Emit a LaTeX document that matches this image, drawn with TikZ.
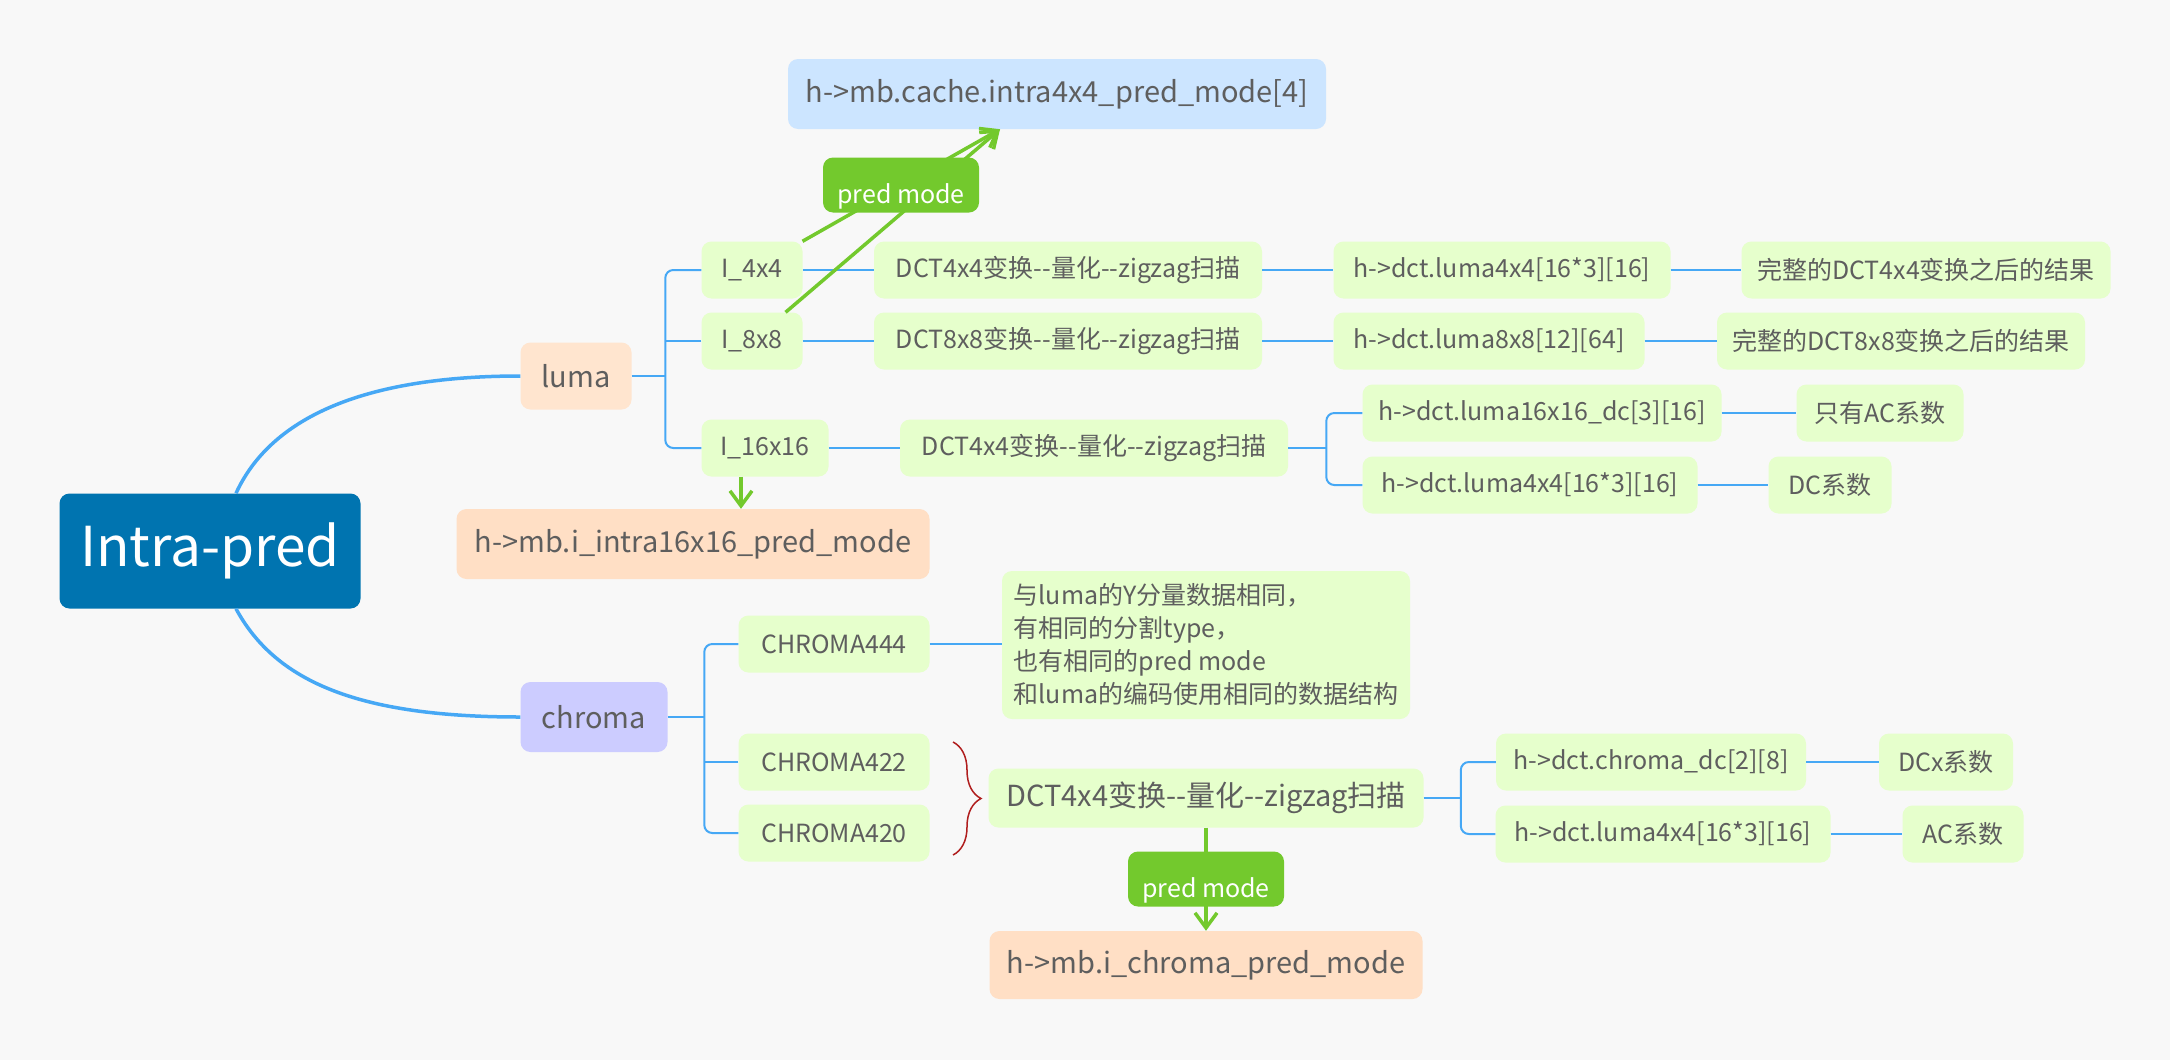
\documentclass[tikz,border=0pt]{standalone}
\usepackage{fontspec}
\setmainfont{Noto Sans CJK SC}
\usetikzlibrary{arrows.meta,decorations.pathreplacing}
\definecolor{bgc}{HTML}{F8F8F8}
\definecolor{txc}{HTML}{5E5E5E}
\definecolor{ipc}{HTML}{0074B0}
\definecolor{lgc}{HTML}{E6FFCC}
\definecolor{pea}{HTML}{FFE5CF}
\definecolor{peb}{HTML}{FFDFC5}
\definecolor{lav}{HTML}{CCCCFF}
\definecolor{lbc}{HTML}{CCE5FF}
\definecolor{grc}{HTML}{73C92D}
\definecolor{blc}{HTML}{46A8F5}
\definecolor{rdc}{HTML}{B01E1E}
\newcommand\fsz[2]{\fontsize{#1pt}{#2pt}\selectfont}
\begin{document}
\begin{tikzpicture}[x=1pt, y=-1pt,
  nd/.style={rounded corners=10pt, inner sep=0pt, text=txc},
  wd/.style={minimum width=#1pt},
  hh/.style={minimum height=#1pt},
  sm/.style={nd, fill=lgc, font=\fsz{25}{30}, minimum height=57pt},
  lg/.style={nd, font=\fsz{29}{34}},
  bl/.style={draw=blc, line width=2pt},
  trunk/.style={draw=blc, line width=3.5pt},
  garrow/.style={draw=grc, line width=3.5pt, -{Straight Barb[length=15pt,width=22pt]}},
  pm/.style={nd, fill=grc, text=white, font=\fsz{25}{30}, text height=36pt, text depth=0pt, minimum width=156pt, minimum height=55pt},
]
\fill[bgc] (0,0) rectangle (2170,1060);
\useasboundingbox (0,0) rectangle (2170,1060);

% main nodes
\node[nd, fill=ipc, text=white, font=\fsz{55}{62}, wd=301, hh=115] (ip) at (210,551) {Intra-pred};
\node[lg, fill=pea, wd=111, hh=67] (luma) at (576,376) {luma};
\node[lg, fill=lav, wd=147, hh=70] (chroma) at (594,717) {chroma};

% luma rows
\node[sm, wd=101] (i4) at (752,270) {I\_4x4};
\node[sm, wd=388] (d1) at (1068,270) {DCT4x4变换-{}-量化-{}-zigzag扫描};
\node[sm, wd=337] (l1) at (1502,270) {h->dct.luma4x4[16*3][16]};
\node[sm, wd=369] (r1) at (1926,270) {完整的DCT4x4变换之后的结果};

\node[sm, wd=101] (i8) at (752,341) {I\_8x8};
\node[sm, wd=388] (d2) at (1068,341) {DCT8x8变换-{}-量化-{}-zigzag扫描};
\node[sm, wd=311] (l2) at (1489,341) {h->dct.luma8x8[12][64]};
\node[sm, wd=368] (r2) at (1901,341) {完整的DCT8x8变换之后的结果};

\node[sm, wd=127] (i16) at (765,448) {I\_16x16};
\node[sm, wd=388] (d3) at (1094,448) {DCT4x4变换-{}-量化-{}-zigzag扫描};
\node[sm, wd=359] (l3) at (1542,413) {h->dct.luma16x16\_dc[3][16]};
\node[sm, wd=167] (r3) at (1880,413) {只有AC系数};
\node[sm, wd=335] (l4) at (1530,485) {h->dct.luma4x4[16*3][16]};
\node[sm, wd=123] (r4) at (1830,485) {DC系数};

\node[lg, fill=peb, wd=473, hh=70] (m16) at (693,544) {h->mb.i\_intra16x16\_pred\_mode};
\node[lg, fill=lbc, wd=538, hh=70] (cache) at (1057,94) {h->mb.cache.intra4x4\_pred\_mode[4]};

% chroma rows
\node[sm, wd=191] (c444) at (834,644) {CHROMA444};
\node[sm, wd=191] (c422) at (834,762) {CHROMA422};
\node[sm, wd=191] (c420) at (834,833) {CHROMA420};
\node[nd, fill=lgc, font=\fsz{25}{33}, wd=408, hh=148, align=left] (note) at (1206,645)
  {与luma的Y分量数据相同，\\有相同的分割type，\\也有相同的pred mode\\和luma的编码使用相同的数据结构};
\node[lg, fill=lgc, wd=435, hh=59] (dctc) at (1206,798) {DCT4x4变换-{}-量化-{}-zigzag扫描};
\node[sm, wd=310] (cdc) at (1651,762) {h->dct.chroma\_dc[2][8]};
\node[sm, wd=134] (dcx) at (1946,762) {DCx系数};
\node[sm, wd=335] (cl4) at (1663,834) {h->dct.luma4x4[16*3][16]};
\node[sm, wd=121] (ac) at (1963,834) {AC系数};
\node[lg, fill=peb, wd=433, hh=68] (cpm) at (1206,965) {h->mb.i\_chroma\_pred\_mode};

% main curves
\draw[trunk] ([xshift=26pt]ip.north) .. controls +(34,-74) and +(-160,0) .. (luma.west);
\draw[trunk] ([xshift=26pt]ip.south) .. controls +(40,74) and +(-160,0) .. (chroma.west);

% luma bracket
\coordinate (lj) at ([xshift=-36pt]i4.west);
\draw[bl] (luma.east) -- (lj |- luma.east);
\draw[bl, rounded corners=8pt] (i4.west) -- (lj) |- (i16.west);
\draw[bl] (i8.west) -- (lj |- i8.west);

\draw[bl] (i4.east) -- (d1.west);
\draw[bl] (d1.east) -- (l1.west);
\draw[bl] (l1.east) -- (r1.west);
\draw[bl] (i8.east) -- (d2.west);
\draw[bl] (d2.east) -- (l2.west);
\draw[bl] (l2.east) -- (r2.west);
\draw[bl] (i16.east) -- (d3.west);

\coordinate (dj) at ([xshift=-36pt]l3.west);
\draw[bl] (d3.east) -- (dj |- d3.east);
\draw[bl, rounded corners=8pt] (l3.west) -- (dj) |- (l4.west);
\draw[bl] (l3.east) -- (r3.west);
\draw[bl] (l4.east) -- (r4.west);

% chroma bracket
\coordinate (cj) at ([xshift=-34pt]c444.west);
\draw[bl] (chroma.east) -- (cj |- chroma.east);
\draw[bl, rounded corners=8pt] (c444.west) -- (cj) |- (c420.west);
\draw[bl] (c422.west) -- (cj |- c422.west);
\draw[bl] (c444.east) -- (c444.east -| note.west);

\coordinate (ej) at ([xshift=-35pt]cdc.west);
\draw[bl] (dctc.east) -- (ej |- dctc.east);
\draw[bl, rounded corners=8pt] (cdc.west) -- (ej) |- (cl4.west);
\draw[bl] (cdc.east) -- (dcx.west);
\draw[bl] (cl4.east) -- (ac.west);

% brace
\coordinate (b1) at (953,742);
\coordinate (b2) at (953,855);
\draw[rdc, line width=1.5pt, decorate, decoration={brace, amplitude=28pt}] (b1) -- (b2);

% green arrows
\coordinate (tip) at ([xshift=-57pt]cache.south);
\draw[garrow] (i4) -- (tip);
\draw[garrow] (i8) -- (tip);
\node[pm] (pm1) at (901,185) {pred mode};

\coordinate (a16) at ([xshift=-24pt]i16.south);
\draw[garrow] (a16) -- (a16 |- m16.north);

\draw[garrow] (dctc.south) -- (cpm.north);
\node[pm] (pm2) at (1206,879) {pred mode};
\end{tikzpicture}
\end{document}
